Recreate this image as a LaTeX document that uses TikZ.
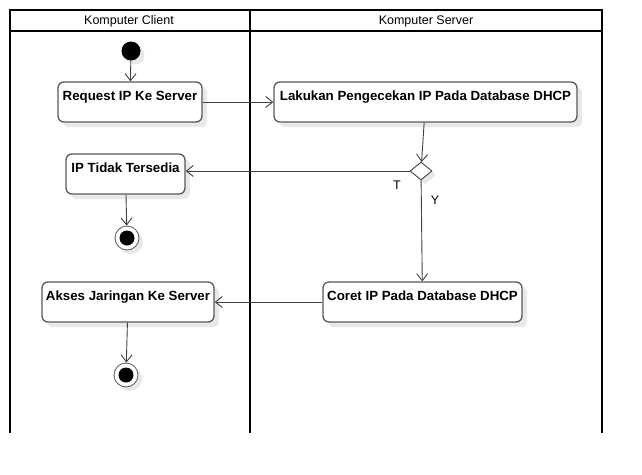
\documentclass[tikz,border=0pt]{standalone}
\usepackage{fontspec}
\setmainfont{Liberation Sans}
\usetikzlibrary{arrows.meta,shapes.geometric,shadows}

\begin{document}
\begin{tikzpicture}[x=1pt,y=-1pt,
  lane/.style={line width=1.8pt,black},
  lanename/.style={font=\fontsize{12.5}{14}\selectfont},
  act/.style={draw=black!65,line width=1.3pt,rounded corners=6pt,fill=white,
    minimum height=40pt,inner xsep=2pt,inner ysep=4pt,text height=14pt,text depth=18pt,
    font=\bfseries\fontsize{13.3}{15}\selectfont,
    drop shadow={shadow xshift=5pt,shadow yshift=-5pt,fill=black!9,opacity=1}},
  startnode/.style={circle,fill=black,minimum size=19pt,inner sep=0pt,
    drop shadow={shadow xshift=4pt,shadow yshift=-4pt,fill=black!9,opacity=1}},
  endnode/.style={circle,draw=black!60,line width=0.9pt,fill=white,minimum size=24pt,inner sep=0pt,
    path picture={\fill[black] (path picture bounding box.center) circle (7.5pt);},
    drop shadow={shadow xshift=4pt,shadow yshift=-4pt,fill=black!9,opacity=1}},
  decision/.style={diamond,draw=black!75,line width=0.9pt,fill=white,minimum width=22pt,
    minimum height=18pt,inner sep=0pt,
    drop shadow={shadow xshift=4pt,shadow yshift=-4pt,fill=black!9,opacity=1}},
  guard/.style={font=\fontsize{12.5}{14}\selectfont},
  flow/.style={draw=black!75,line width=0.9pt,-{Straight Barb[length=7pt,width=11pt]}}]

\useasboundingbox (0,0) rectangle (642,474);

% Swimlanes
\draw[lane] (10,433) -- (10,10) -- (602,10) -- (602,433);
\draw[lane] (10,31) -- (602,31);
\draw[lane] (250,10) -- (250,433);
\node[lanename] (clientlane) at (129,21) {Komputer Client};
\node[lanename] (serverlane) at (426,21) {Komputer Server};

%Start
\node[startnode] (start) at (131,51) {};

%Activities
\node[act,minimum width=144pt] (request) at (130,102) {Request IP Ke Server};
\node[act,minimum width=303pt] (cek) at (425.5,102) {Lakukan Pengecekan IP Pada Database DHCP};
\node[decision] (dec) at (421,171) {};
\node[act,minimum width=119pt] (tidak) at (125.5,174) {IP Tidak Tersedia};
\node[act,minimum width=199pt] (coret) at (422.5,302) {Coret IP Pada Database DHCP};
\node[act,minimum width=172pt] (akses) at (128,302) {Akses Jaringan Ke Server};

%End
\node[endnode] (endA) at (127,238) {};
\node[endnode] (endB) at (126,375) {};

%Guards
\node[guard] (guardT) at (397,185) {T};
\node[guard] (guardY) at (435,200) {Y};

%Flows
\draw[flow] (start) -- (request);
\draw[flow] (request) -- (cek);
\draw[flow] (cek) -- (dec);
\draw[flow] (dec.west) -- (dec.west -| tidak.east);
\draw[flow] (dec) -- (coret);
\draw[flow] (tidak) -- (endA);
\draw[flow] (coret) -- (akses);
\draw[flow] (akses) -- (endB);

\end{tikzpicture}
\end{document}
